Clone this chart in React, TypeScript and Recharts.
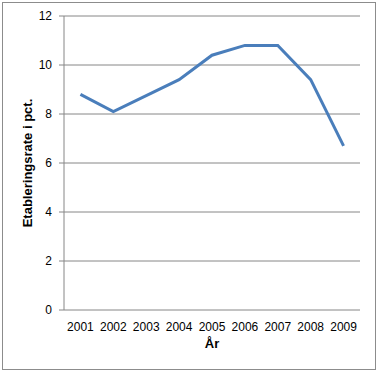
import React from 'react';
import { LineChart, Line, XAxis, YAxis, CartesianGrid } from 'recharts';

const years = [2001, 2002, 2003, 2004, 2005, 2006, 2007, 2008, 2009];
const rates = [8.8, 8.1, 8.75, 9.4, 10.4, 10.8, 10.8, 9.4, 6.7];
const yTicks = [0, 2, 4, 6, 8, 10, 12];

const data = years.map((y, i) => ({ year: y, rate: rates[i] }));
const bounds = [years[0] - 0.5, ...years.map((y) => y + 0.5)];
const domain: [number, number] = [bounds[0], bounds[bounds.length - 1]];

const FONT = 'Liberation Sans, Arial, sans-serif';
const GRAY = '#868686';

export default function App() {
  return (
    <div style={{ position: 'absolute', left: 0, top: 0, width: 379, height: 373, background: '#fff' }}>
      <div
        style={{
          position: 'absolute',
          left: 2,
          top: 2,
          width: 372,
          height: 366,
          border: '1px solid #8c8c8c',
        }}
      />
      <div style={{ position: 'absolute', left: 0, top: 0 }}>
        <LineChart
          width={379}
          height={373}
          data={data}
          margin={{ top: 16, right: 19, bottom: 23, left: 0 }}
          style={{ fontFamily: FONT }}
        >
          <CartesianGrid vertical={false} stroke={GRAY} strokeOpacity={1} />
          <XAxis
            xAxisId="b"
            dataKey="year"
            type="number"
            domain={domain}
            ticks={bounds}
            tick={false}
            tickSize={5}
            height={0}
            axisLine={{ stroke: GRAY }}
            tickLine={{ stroke: GRAY }}
          />
          <XAxis
            xAxisId="a"
            dataKey="year"
            type="number"
            domain={domain}
            ticks={years}
            interval={0}
            tickLine={false}
            axisLine={false}
            tickSize={0}
            tickMargin={12}
            height={40}
            tick={{ fill: '#000', fontSize: 12, fontFamily: FONT }}
            label={{
              value: 'År',
              position: 'insideBottom',
              offset: 2,
              style: { fill: '#000', fontSize: 13, fontWeight: 'bold', fontFamily: FONT },
            }}
          />
          <YAxis
            domain={[0, 12]}
            ticks={yTicks}
            width={64}
            tickSize={5}
            tickMargin={7}
            axisLine={{ stroke: GRAY }}
            tickLine={{ stroke: GRAY }}
            tick={{ fill: '#000', fontSize: 12, fontFamily: FONT }}
            label={{
              value: 'Etableringsrate i pct.',
              angle: -90,
              position: 'insideLeft',
              offset: 27,
              style: { textAnchor: 'middle', fill: '#000', fontSize: 13, fontWeight: 'bold', fontFamily: FONT },
            }}
          />
          <Line
            xAxisId="a"
            type="linear"
            dataKey="rate"
            stroke="#4A7EBB"
            strokeWidth={3}
            dot={false}
            isAnimationActive={false}
          />
        </LineChart>
      </div>
    </div>
  );
}
